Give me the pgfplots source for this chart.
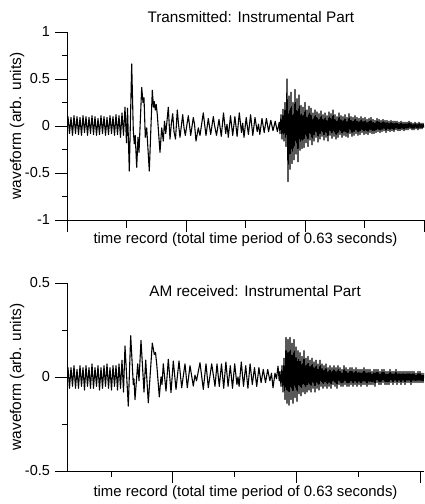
\documentclass[border=0pt]{standalone}
\usepackage{fontspec}
\setmainfont{Liberation Sans}
\usepackage{pgfplots}
\pgfplotsset{compat=1.18}
\pgfplotsset{
  wave/.style={
    scale only axis, width=357bp, height=188bp,
    axis lines=left, axis line style={-, line width=0.8pt, black},
    xmin=0, xmax=357,
    tick align=outside,
    major tick length=12bp, minor tick length=5bp,
    every tick/.style={black, line width=0.8pt},
    xticklabels={}, extra x tick labels={},
    /pgf/number format/assume math mode=true,
    tick label style={font=\fontsize{14.5bp}{17bp}\selectfont},
    ylabel={waveform (arb. units)},
    xlabel={time record (total time period of 0.63 seconds)},
    every axis y label/.style={at={(axis description cs:-0.14,0.5)}, rotate=90, anchor=center, font=\fontsize{15.5bp}{18bp}\selectfont},
    every axis title/.style={anchor=center, font=\fontsize{15.3bp}{18bp}\selectfont},
  },
  wl/.style={black, mark=none, line width=1.1pt, line join=round},
}
\begin{document}
\fontsize{14.5bp}{17bp}\selectfont
\begin{tikzpicture}
\useasboundingbox (0,0) rectangle (425bp,504bp);
% ---------------- top panel
\begin{axis}[wave, at={(67bp,284bp)}, anchor=south west,
  ymin=-1, ymax=1, ytick={-1,-0.5,0,0.5,1}, minor ytick={-0.75,-0.25,0.25,0.75},
  xtick={0,119,238,357}, extra x ticks={59.5,178.5,297.5},
  extra x tick style={major tick length=8bp},
  title={Transmitted: Instrumental Part},
  title style={at={(axis description cs:0.515,1.08)}},
  every axis x label/.style={at={(axis description cs:0.5,-0.106)}, anchor=center, font=\fontsize{14.9bp}{18bp}\selectfont},
]
\addplot[wl] coordinates {
(0,0.03)(1,0.10)(2.5,-0.08)(4,0.09)(5.5,-0.10)(7,0.11)(8.5,-0.08)(10,0.10)(11.5,-0.09)(13,0.09)(14.5,-0.10)(16,0.11)(17.5,-0.07)(19,0.10)(20.5,-0.10)(22,0.09)(23.5,-0.08)(25,0.11)(26.5,-0.09)(28,0.10)(29.5,-0.10)(31,0.08)(32.5,-0.09)(34,0.11)(35.5,-0.08)(37,0.10)(38.5,-0.10)(40,0.09)(41.5,-0.09)(43,0.11)(44.5,-0.08)(46,0.10)(47.5,-0.10)(49,0.12)(50.5,-0.09)(52,0.11)(53.5,-0.12)(55,0.14)(56.5,-0.10)(58,0.20)
(59.5,-0.18)(60.5,0.19)(62.3,-0.48)(64.7,0.66)(66.3,-0.05)(67.3,-0.19)(68.2,-0.10)(69.7,-0.44)(71,-0.12)(72,-0.28)(74.7,0.41)(76,0.25)(77,0.30)(78.3,-0.12)(79.7,-0.02)(82.3,-0.48)(85.3,0.38)(86.5,0.20)(87.3,0.26)(88.3,0.17)(89.2,0.23)(90.3,0.12)(93,-0.28)(94.7,-0.02)(96.3,-0.16)(97.5,0.05)(98.8,-0.08)(101.3,0.20)(103,-0.14)(104.3,0.02)(105.7,0.13)(107,-0.06)(108.5,-0.14)(110.3,0.17)(111.5,0.02)(113,-0.12)(115.7,0.12)(117,-0.02)(118.3,-0.10)(121.3,0.11)(122.5,0.01)(123.7,-0.10)(126.3,0.09)(127.5,0.02)(129,-0.16)(131.3,-0.02)(133,-0.10)(136.3,0.14)(137.5,0.03)(139,-0.10)(141.3,0.08)(143.7,-0.09)(146.3,0.10)(147.5,0.01)(149.5,-0.10)(152,0.07)
(154.3,-0.11)(156.5,0.14)(158.7,-0.08)(160,0.02)(161.3,-0.12)(163.5,0.11)(165.7,-0.10)(167.9,0.10)(170.1,-0.11)(172.3,0.14)(174.5,-0.07)(175.7,0.03)(177,-0.12)(179.2,0.09)(181.4,-0.09)(183.6,0.12)(185.8,-0.10)(188,0.09)(190.2,-0.06)(191.5,0.02)(192.8,-0.09)(195,0.08)(197.2,-0.07)(199.4,0.08)(201.6,-0.06)(203.8,0.06)(206,-0.05)(208.2,0.05)(210.4,-0.06)(212.2,0.04)
(213,-0.08)(214,0.12)(215,-0.14)(216,0.18)(217,-0.16)(218,0.25)(219,-0.22)(220,0.50)(221,-0.59)(222,0.32)(223,-0.46)(224,0.36)(225,-0.40)(226,0.25)(227,-0.36)(228,0.39)(229,-0.30)(230,0.29)(231,-0.38)(232,0.33)(233,-0.26)(234,0.22)(235,-0.24)(236,0.20)(237,-0.23)(238,0.25)(239,-0.18)(240,0.17)(241,-0.22)(242,0.21)(243,-0.15)(244,0.19)(245,-0.20)(246,0.14)(247,-0.16)(248,0.17)(249,-0.12)(250,0.15)(251,-0.17)(252,0.13)(253,-0.14)(254,0.16)(255,-0.11)(256,0.12)(257,-0.15)(258,0.14)(259,-0.12)(260,0.11)(261,-0.16)(262,0.15)(263,-0.10)(264,0.13)(265,-0.13)(266,0.17)(267,-0.11)(268,0.12)(269,-0.14)(270,0.10)(271,-0.12)(272,0.14)(273,-0.09)(274,0.11)(275,-0.12)(276,0.10)(277,-0.10)(278,0.12)(279,-0.11)(280,0.09)(281,-0.12)(282,0.13)(283,-0.08)(284,0.10)(285,-0.11)(286,0.09)(287,-0.10)(288,0.11)(289,-0.08)(290,0.09)(291,-0.10)(292,0.08)(293,-0.09)(294,0.10)(295,-0.07)(296,0.08)(297,-0.09)(298,0.09)(299,-0.08)(300,0.07)(301,-0.09)(302,0.08)(303,-0.07)(304,0.09)(305,-0.08)(306,0.07)(307,-0.08)(308,0.06)(309,-0.07)(310,0.08)(311,-0.06)(312,0.07)(313,-0.07)(314,0.06)(315,-0.06)(316,0.07)(317,-0.05)(318,0.06)(319,-0.07)(320,0.06)(321,-0.05)(322,0.05)(323,-0.06)(324,0.06)(325,-0.05)(326,0.05)(327,-0.06)(328,0.05)(329,-0.04)(330,0.05)(331,-0.05)(332,0.04)(333,-0.05)(334,0.05)(335,-0.04)(336,0.04)(337,-0.05)(338,0.04)(339,-0.04)(340,0.04)(341,-0.04)(342,0.05)(343,-0.03)(344,0.04)(345,-0.04)(346,0.03)(347,-0.04)(348,0.04)(349,-0.03)(350,0.03)(351,-0.04)(352,0.04)(353,-0.03)(354,0.03)(355,-0.03)(356,0.03)(357,-0.02)
};
\end{axis}
% ---------------- bottom panel
\begin{axis}[wave, at={(67bp,33bp)}, anchor=south west,
  ymin=-0.5, ymax=0.5, ytick={-0.5,0,0.5}, minor ytick={-0.25,0.25},
  xtick={105.8,229.4,353}, extra x ticks={44,167.6,291.2},
  extra x tick style={major tick length=6bp},
  title={AM received: Instrumental Part},
  title style={at={(axis description cs:0.527,0.957)}},
  every axis x label/.style={at={(axis description cs:0.5,-0.117)}, anchor=center, font=\fontsize{14.9bp}{18bp}\selectfont},
]
\addplot[wl] coordinates {
(0,0.02)(1,0.05)(2.5,-0.06)(4,0.05)(5.5,-0.05)(7,0.06)(8.5,-0.06)(10,0.04)(11.5,-0.06)(13,0.06)(14.5,-0.05)(16,0.05)(17.5,-0.07)(19,0.06)(20.5,-0.05)(22,0.05)(23.5,-0.06)(25,0.07)(26.5,-0.06)(28,0.05)(29.5,-0.05)(31,0.06)(32.5,-0.07)(34,0.05)(35.5,-0.06)(37,0.06)(38.5,-0.05)(40,0.07)(41.5,-0.06)(43,0.05)(44.5,-0.07)(46,0.06)(47.5,-0.05)(49,0.06)(50.5,-0.07)(52,0.07)(53.5,-0.06)(55,0.09)(56.5,-0.08)
(58,0.165)(61.3,-0.155)(63.7,0.22)(66.3,-0.04)(67,-0.01)(68,-0.12)(70.7,0.07)(72,-0.02)(74,0.195)(77,-0.08)(78.7,0.09)(81.3,-0.137)(85.3,0.18)(87.3,0.12)(88.5,0.13)(89.7,0.07)(92.3,-0.106)(94,0.0)(95,-0.04)(96.3,0.07)(99,-0.075)(101.3,0.094)(104,-0.083)(106.3,0.085)(109,-0.066)(112,0.085)(114.7,-0.057)(118,0.07)(120.3,-0.057)(123,0.06)(126.3,-0.048)(128,0.01)(129.5,-0.02)(133,0.076)(136.3,-0.066)(139,0.07)(141.3,-0.057)(144.7,0.07)(148,-0.05)(150,0.07)
(152.3,-0.05)(154.5,0.07)(156.7,-0.06)(158.9,0.08)(161.1,-0.05)(163.3,0.06)(165.5,-0.06)(167.7,0.07)(169.9,-0.04)(171,0.0)(172.1,-0.05)(174.3,0.08)(176.5,-0.05)(178.7,0.06)(180.9,-0.06)(183.1,0.07)(185.3,-0.04)(187.5,0.05)(189.7,-0.05)(191.9,0.05)(194.1,-0.03)(196.3,0.04)(198.5,-0.03)(200.7,0.04)(202.9,-0.02)(204.5,0.02)(206,-0.057)(208,0.02)(209.5,-0.01)(211,0.058)(212.2,-0.02)
(213,0.03)(214,-0.05)(215,0.06)(216,-0.08)(217,0.10)(218,-0.12)(219,0.21)(220,-0.14)(221,0.20)(222,-0.15)(223,0.21)(224,-0.12)(225,0.18)(226,-0.14)(227,0.20)(228,-0.11)(229,0.16)(230,-0.13)(231,0.14)(232,-0.09)(233,0.13)(234,-0.10)(235,0.11)(236,-0.08)(237,0.14)(238,-0.09)(239,0.10)(240,-0.08)(241,0.11)(242,-0.07)(243,0.09)(244,-0.08)(245,0.10)(246,-0.06)(247,0.08)(248,-0.08)(249,0.09)(250,-0.06)(251,0.07)(252,-0.07)(253,0.09)(254,-0.05)(255,0.07)(256,-0.06)(257,0.06)(258,-0.05)(259,0.07)(260,-0.06)(261,0.05)(262,-0.05)(263,0.06)(264,-0.06)(265,0.05)(266,-0.04)(267,0.06)(268,-0.05)(269,0.05)(270,-0.06)(271,0.06)(272,-0.04)(273,0.05)(274,-0.05)(275,0.04)(276,-0.05)(277,0.06)(278,-0.04)(279,0.05)(280,-0.05)(281,0.04)(282,-0.05)(283,0.05)(284,-0.04)(285,0.05)(286,-0.05)(287,0.04)(288,-0.04)(289,0.05)(290,-0.05)(291,0.04)(292,-0.04)(293,0.04)(294,-0.05)(295,0.04)(296,-0.04)(297,0.05)(298,-0.04)(299,0.04)(300,-0.05)(301,0.04)(302,-0.04)(303,0.04)(304,-0.04)(305,0.03)(306,-0.04)(307,0.04)(308,-0.05)(309,0.04)(310,-0.03)(311,0.04)(312,-0.04)(313,0.03)(314,-0.04)(315,0.04)(316,-0.03)(317,0.04)(318,-0.04)(319,0.03)(320,-0.04)(321,0.03)(322,-0.04)(323,0.04)(324,-0.03)(325,0.03)(326,-0.04)(327,0.03)(328,-0.03)(329,0.04)(330,-0.04)(331,0.03)(332,-0.03)(333,0.03)(334,-0.04)(335,0.03)(336,-0.03)(337,0.03)(338,-0.04)(339,0.03)(340,-0.03)(341,0.03)(342,-0.03)(343,0.03)(344,-0.04)(345,0.03)(346,-0.03)(347,0.03)(348,-0.03)(349,0.02)(350,-0.03)(351,0.03)(352,-0.03)(353,0.03)(354,-0.03)(355,0.02)(356,-0.03)(357,0.02)
};
\end{axis}
\end{tikzpicture}
\end{document}
